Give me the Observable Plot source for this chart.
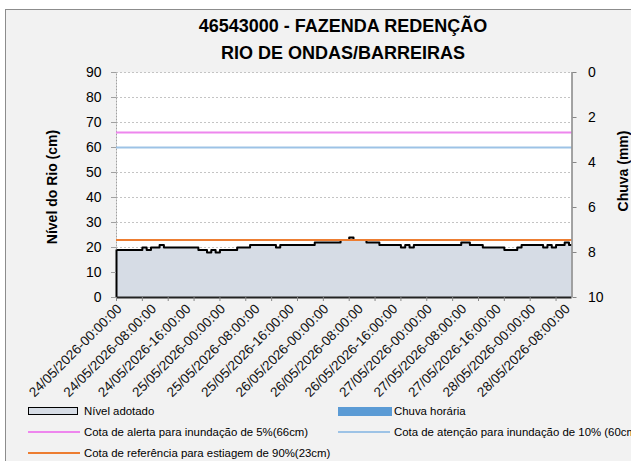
<!DOCTYPE html>
<html><head><meta charset="utf-8">
<script src="https://cdn.jsdelivr.net/npm/d3@7"></script>
<script src="https://cdn.jsdelivr.net/npm/@observablehq/plot@0.6"></script>
<style>
html,body{margin:0;padding:0;background:#fff;}
#wrap{position:relative;width:631px;height:461px;overflow:hidden;font-family:"Liberation Sans",Arial,sans-serif;}
#box{position:absolute;left:5px;top:9px;width:700px;height:500px;background:#f2f2f2;border:1.5px solid #8c8c8c;box-sizing:border-box}
#chart{position:absolute;left:0;top:0}
.title{position:absolute;left:0;width:686px;text-align:center;font-weight:bold;font-size:18px;line-height:20px;color:#000;white-space:nowrap}
.ylab{position:absolute;font-weight:bold;font-size:14px;line-height:16px;white-space:nowrap;transform:translate(-50%,-50%) rotate(-90deg);color:#000}
.leg{position:absolute;font-size:11.4px;line-height:12px;white-space:nowrap;color:#000}
.sw{position:absolute}
</style></head>
<body>
<div id="wrap">
  <div id="box"></div>
  <div id="chart"></div>
  <div class="title" style="top:16px">46543000 - FAZENDA REDENÇÃO</div>
  <div class="title" style="top:43px">RIO DE ONDAS/BARREIRAS</div>
  <div class="ylab" style="left:52px;top:187px">Nível do Rio (cm)</div>
  <div class="ylab" style="left:623px;top:171px">Chuva (mm)</div>
  <div id="legend"></div>
</div>
<script>
// ---- data ----
const startTime = "2026-05-24T00:00:00Z";
const endHours = 105.7;
// hourly "Nível adotado" (cm), from 24/05/2026 00:00
const nivelValues = [
  19,19,19,19,19,19,20,19,20,20,21,20,20,20,20,20,20,20,20,19,19,18,19,18,
  19,19,19,19,20,20,20,21,21,21,21,21,21,20,21,21,21,21,21,21,21,21,22,22,
  22,22,22,22,23,23,24,23,23,23,22,22,22,21,21,21,21,21,20,21,20,21,21,21,
  21,21,21,21,21,21,21,21,22,22,21,21,21,20,20,20,20,20,19,19,19,20,21,21,
  21,21,21,20,21,20,21,21,22,21,22
];
// hourly rain (mm)
const chuvaValues = [
  0,0,0,0,0,0,0,0,0,0,0,0,0,0,0,0,0,0,0,0,0,0,0,0,
  0,0,0,0,0,0,0,0,0,0,0,0,0,0,0,0,0,0,0,0,0,0,0,0,
  0,0,0,0,0,0,0,0,0,0,0,0,0,0,0,0,0,0,0,0,0,0,0,0,
  0,0,0,0,0,0,0,0,0,0,0,0,0,0,0,0,0,0,0,0,0,0,0,0,
  0,0,0,0,0,0,0,0,0,0,0
];
const cotaAlerta = 66;
const cotaAtencao = 60;
const cotaEstiagem = 23;
const nivelTicks = [0,10,20,30,40,50,60,70,80,90];
const chuvaTicks = [0,2,4,6,8,10];
const chuvaMax = 10;
const xLabels = [
  "24/05/2026-00:00:00","24/05/2026-08:00:00","24/05/2026-16:00:00",
  "25/05/2026-00:00:00","25/05/2026-08:00:00","25/05/2026-16:00:00",
  "26/05/2026-00:00:00","26/05/2026-08:00:00","26/05/2026-16:00:00",
  "27/05/2026-00:00:00","27/05/2026-08:00:00","27/05/2026-16:00:00",
  "28/05/2026-00:00:00","28/05/2026-08:00:00"
];
const tickEveryHours = 6;
const legendItems = [
  {label:"Nível adotado", kind:"area"},
  {label:"Chuva horária", kind:"bar"},
  {label:"Cota de alerta para inundação de 5%(66cm)", kind:"line", color:"#ee86ee"},
  {label:"Cota de atenção para inundação de 10% (60cm)", kind:"line", color:"#9dc3e6"},
  {label:"Cota de referência para estiagem de 90%(23cm)", kind:"line", color:"#ed7d31"}
];

// ---- build ----
const H = 3600e3;
const t0 = new Date(startTime);
const tEnd = new Date(+t0 + endHours*H);
const nivel = nivelValues.map((v,i)=>({t:new Date(+t0+i*H), v}));
const chuva = chuvaValues.map((v,i)=>({t1:new Date(+t0+i*H), t2:new Date(+t0+(i+1)*H), v}));
const parse = d3.utcParse("%d/%m/%Y-%H:%M:%S");
const labelTimes = xLabels.map(s=>parse(s));
const tickTimes = [];
for (let h=0; h<=endHours; h+=tickEveryHours) tickTimes.push(new Date(+t0+h*H));
const chuvaToY = v => 90 - v*(90/chuvaMax);

const plot = Plot.plot({
  width:631, height:461,
  marginLeft:116, marginRight:59.5, marginTop:72, marginBottom:164,
  style:{background:"transparent", fontFamily:"'Liberation Sans', Arial, sans-serif", fontSize:"14px", color:"#000", overflow:"visible"},
  x:{type:"utc", domain:[t0,tEnd], axis:null},
  y:{domain:[0,90], axis:null},
  marks:[
    Plot.frame({fill:"white", stroke:null}),
    Plot.gridY(nivelTicks.slice(1), {stroke:"#c4c4c4", strokeOpacity:1, strokeDasharray:"2,2"}),
    Plot.rectY(chuva, {x1:"t1", x2:"t2", y1:90, y2:d=>chuvaToY(d.v), fill:"#5b9bd5", insetLeft:0.5, insetRight:0.5}),
    Plot.areaY(nivel, {x:"t", y:"v", curve:"step-after", fill:"#d6dce5", clip:true}),
    Plot.lineY(nivel, {x:"t", y:"v", curve:"step-after", stroke:"#000", strokeWidth:2, clip:true}),
    Plot.ruleX([t0], {y1:0, y2:nivelValues[0], stroke:"#000", strokeWidth:2}),
    Plot.ruleX([t0], {y1:nivelValues[0], y2:90, stroke:"#a0a0a0", strokeDasharray:"2,1"}),
    Plot.ruleY([0], {stroke:"#222", strokeWidth:2}),
    Plot.ruleY([cotaAlerta], {stroke:"#ee86ee", strokeWidth:2}),
    Plot.ruleY([cotaAtencao], {stroke:"#9dc3e6", strokeWidth:2}),
    Plot.ruleY([cotaEstiagem], {stroke:"#ed7d31", strokeWidth:2}),
    Plot.ruleX([tEnd], {stroke:"#868686", strokeWidth:1.5}),
    Plot.axisY(nivelTicks, {anchor:"left", tickSize:5, tickPadding:10, stroke:"#a0a0a0", label:null, fontSize:14}),
    Plot.axisY(chuvaTicks.map(chuvaToY), {anchor:"right", tickSize:4, tickPadding:12, stroke:"#868686", label:null, fontSize:14, tickFormat:d=>String(Math.round((90-d)*chuvaMax/90))}),
    Plot.axisX(tickTimes, {anchor:"bottom", tickSize:4, tickPadding:0, stroke:"#868686", label:null, tickFormat:()=>""}),
    Plot.text(labelTimes, {x:d=>d, frameAnchor:"bottom", text:(d,i)=>xLabels[i], rotate:-45, textAnchor:"end", lineAnchor:"middle", dx:3, dy:9, fontSize:13.5, fill:"#111"})
  ]
});
document.getElementById("chart").appendChild(plot);

// legend
const leg = document.getElementById("legend");
const pos = [[28,411],[338,411],[28,432],[338,432],[28,453]];
legendItems.forEach((it,i)=>{
  const [x,y] = pos[i];
  const sw = document.createElement("div");
  sw.className="sw";
  if (it.kind==="area") { sw.style.cssText=`left:${x}px;top:${y-4}px;width:48px;height:6px;background:#d6dce5;border:1.5px solid #000;`; }
  else if (it.kind==="bar") { sw.style.cssText=`left:${x}px;top:${y-4}px;width:54px;height:9px;background:#5b9bd5;`; }
  else { sw.style.cssText=`left:${x}px;top:${y-1}px;width:52px;height:2px;background:${it.color};`; }
  leg.appendChild(sw);
  const t = document.createElement("div");
  t.className="leg"; t.textContent=it.label;
  t.style.left=(x+56)+"px"; t.style.top=(y-6)+"px";
  leg.appendChild(t);
});
</script>
</body></html>
